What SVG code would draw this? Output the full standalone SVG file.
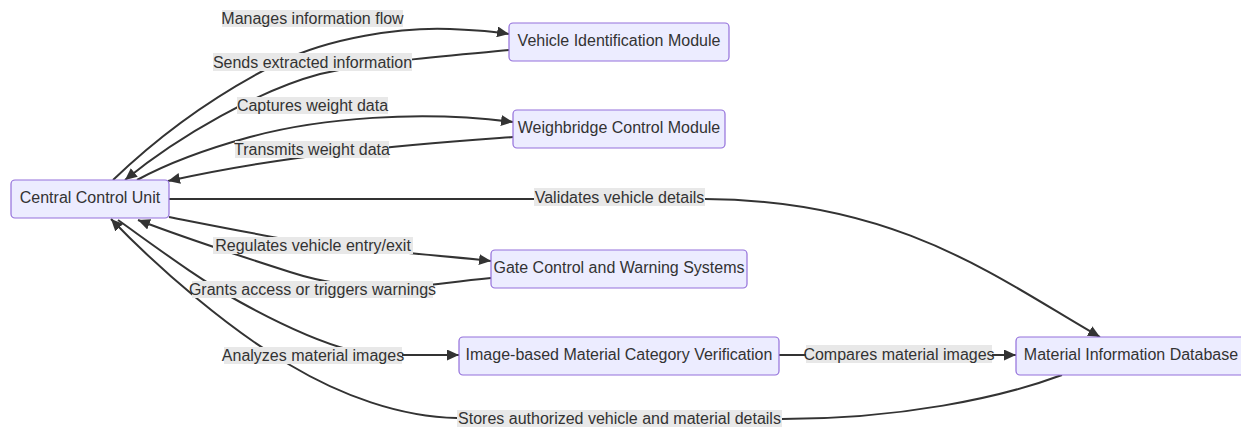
<svg xmlns="http://www.w3.org/2000/svg" width="1241" height="427" viewBox="0 0 1241 427">
  <style>
    .node rect { fill: #ECECFF; stroke: #9370DB; stroke-width: 1.2; }
    .node text { font-family: "Liberation Sans", Arial, sans-serif; font-size: 16px; fill: #333; text-anchor: middle; }
    .edge { fill: none; stroke: #333; stroke-width: 2; }
    .arrow { marker-end: url(#arrowhead); }
    .lbl rect { fill: #e8e8e8; }
    .lbl text { font-family: "Liberation Sans", Arial, sans-serif; font-size: 16px; fill: #333; text-anchor: middle; }
  </style>
  <defs>
    <marker id="arrowhead" viewBox="0 0 12 11" refX="12" refY="5.5" markerWidth="12" markerHeight="11" markerUnits="userSpaceOnUse" orient="auto">
      <path d="M0,0 L12,5.5 L0,11 z" fill="#333"/>
    </marker>
  </defs>
  <rect width="1241" height="427" fill="#ffffff"/>

  <!-- connectors -->
  <g id="connectors">
    <!-- Central Control Unit -> Vehicle Identification Module -->
    <path class="edge arrow" d="M113,180 C165,130 220,92 280,62 C330,38 400,27 450,29 C475,30 492,31 509,34"/>
    <!-- Vehicle Identification Module -> Central Control Unit -->
    <path class="edge arrow" d="M509,50 C460,55 380,60 320,74 C260,90 180,135 125,180"/>
    <!-- Central Control Unit -> Weighbridge Control Module -->
    <path class="edge arrow" d="M137,180 C170,162 210,148 250,137 C320,118 420,110 513,122"/>
    <!-- Weighbridge Control Module -> Central Control Unit -->
    <path class="edge arrow" d="M513,137 C420,144 300,152 168,181"/>
    <!-- Central Control Unit -> Material Information Database -->
    <path class="edge arrow" d="M169,199 L705,199 C900,200 1000,280 1100,337"/>
    <!-- Central Control Unit -> Gate Control and Warning Systems -->
    <path class="edge arrow" d="M169,217 C210,225 250,233 290,240 C360,250 430,254 491,261"/>
    <!-- Gate Control and Warning Systems -> Central Control Unit -->
    <path class="edge arrow" d="M491,278 C460,281 440,284 420,286 C370,290 330,285 290,272 C240,256 190,240 138,220"/>
    <!-- Central Control Unit -> Image-based Material Category Verification -->
    <path class="edge arrow" d="M118,220 C160,250 200,280 240,302 C280,324 320,342 350,350 C370,354 385,355 402,355 L459,355"/>
    <!-- Image-based Material Category Verification -> Material Information Database -->
    <path class="edge arrow" d="M779,355 L1016,355"/>
    <!-- Material Information Database -> Central Control Unit -->
    <path class="edge arrow" d="M1062,375 C1000,398 900,419 782,419 L457,418 C400,417 340,395 290,365 C230,330 160,270 111,219"/>

    <!-- edge labels -->
    <g class="lbl">
      <rect x="222" y="10" width="181" height="17"/>
      <text x="312.5" y="23.5">Manages information flow</text>
    </g>
    <g class="lbl">
      <rect x="213" y="53" width="199" height="18"/>
      <text x="312.5" y="67.5">Sends extracted information</text>
    </g>
    <g class="lbl">
      <rect x="237" y="97" width="151" height="17"/>
      <text x="312.5" y="111">Captures weight data</text>
    </g>
    <g class="lbl">
      <rect x="235" y="141" width="154" height="17"/>
      <text x="312" y="155">Transmits weight data</text>
    </g>
    <g class="lbl">
      <rect x="534" y="188" width="171" height="18"/>
      <text x="619.5" y="202.5">Validates vehicle details</text>
    </g>
    <g class="lbl">
      <rect x="213" y="237" width="200" height="17"/>
      <text x="313" y="251">Regulates vehicle entry/exit</text>
    </g>
    <g class="lbl">
      <rect x="192" y="281" width="241" height="17"/>
      <text x="312.5" y="295">Grants access or triggers warnings</text>
    </g>
    <g class="lbl">
      <rect x="224" y="347" width="178" height="17"/>
      <text x="313" y="360.5">Analyzes material images</text>
    </g>
    <g class="lbl">
      <rect x="806" y="345" width="186" height="18"/>
      <text x="899" y="359.5">Compares material images</text>
    </g>
    <g class="lbl">
      <rect x="457" y="410" width="325" height="17"/>
      <text x="619.5" y="424">Stores authorized vehicle and material details</text>
    </g>
  </g>

  <!-- nodes -->
  <g id="central-control-unit" class="node">
    <rect x="11" y="180" width="158" height="38" rx="4"/>
    <text x="90" y="203">Central Control Unit</text>
  </g>
  <g id="vehicle-identification-module" class="node">
    <rect x="509" y="23" width="220" height="38" rx="4"/>
    <text x="619" y="46">Vehicle Identification Module</text>
  </g>
  <g id="weighbridge-control-module" class="node">
    <rect x="513" y="110" width="212" height="38" rx="4"/>
    <text x="619" y="133">Weighbridge Control Module</text>
  </g>
  <g id="gate-control-warning" class="node">
    <rect x="491" y="250" width="256" height="38" rx="4"/>
    <text x="619" y="273">Gate Control and Warning Systems</text>
  </g>
  <g id="image-material-verification" class="node">
    <rect x="459" y="337" width="320" height="38" rx="4"/>
    <text x="619" y="360">Image-based Material Category Verification</text>
  </g>
  <g id="material-information-database" class="node">
    <rect x="1016" y="337" width="230" height="38" rx="4"/>
    <text x="1131" y="360">Material Information Database</text>
  </g>
</svg>
